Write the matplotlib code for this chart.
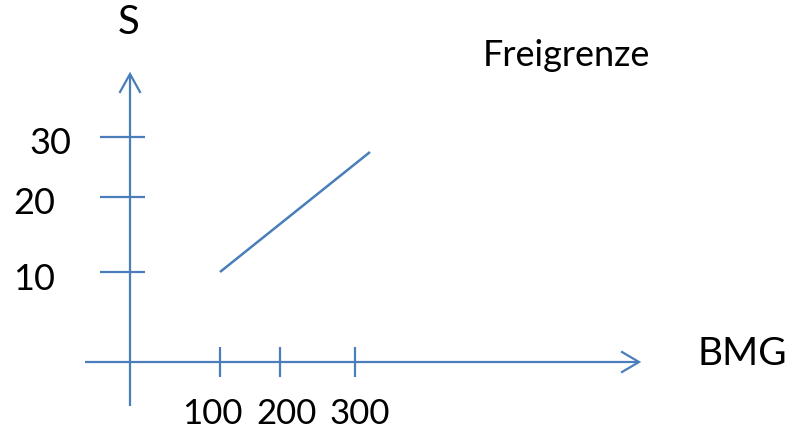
import numpy as np
import matplotlib
matplotlib.use("Agg")
import matplotlib.pyplot as plt
from matplotlib.transforms import Affine2D, blended_transform_factory

# ---- data ----
x_ticks = [100, 200, 300]
x_tick_labels = ["100", "200", "300"]
y_ticks = [10, 20, 30]
y_tick_labels = ["10", "20", "30"]
line_x = [100, 320]
line_y = [10, 27.5]
x_label = "BMG"
y_label = "S"
title = "Freigrenze"

# ---- layout / style (pixel anchors of the hand-drawn sketch) ----
W, H = 795, 433
BLUE = "#4A7EBB"
FONT = ["Lato", "DejaVu Sans"]
XV = [-1000, 0, 100, 200, 300, 2000]
XP = [130 - 1000 * 0.75, 130, 220, 280, 355, 355 + 1700 * 0.75]
YV = [-1000, 0, 10, 20, 30, 1000]
YP = [71 - 1000 * 9, 71, 161, 236, 296, 296 + 970 * 6]   # height from bottom

fx = lambda v: np.interp(v, XV, XP)
fxi = lambda p: np.interp(p, XP, XV)
fy = lambda v: np.interp(v, YV, YP)
fyi = lambda p: np.interp(p, YP, YV)

fig = plt.figure(figsize=(W / 100, H / 100), dpi=100)
ax = fig.add_axes([0, 0, 1, 1])
ax.set_xscale("function", functions=(fx, fxi))
ax.set_yscale("function", functions=(fy, fyi))
ax.set_xlim(fxi(0), fxi(W))
ax.set_ylim(fyi(0), fyi(H))
ax.axis("off")

# pixel transform (origin top-left)
pix = Affine2D().scale(1 / W, -1 / H).translate(0, 1) + fig.transFigure
bx = blended_transform_factory(ax.transData, pix)   # data x, pixel y
by = blended_transform_factory(pix, ax.transData)   # pixel x, data y

lw = 1.6
kw = dict(color=BLUE, lw=lw, solid_capstyle="butt")

# axes (arrows)
ax.plot([130, 130], [406, 75], transform=pix, **kw)
ax.plot([120, 130, 140], [92, 74, 92], transform=pix, color=BLUE, lw=lw,
        solid_joinstyle="miter")
ax.plot([85, 638], [362, 362], transform=pix, **kw)
ax.plot([622, 639, 622], [352, 362, 372], transform=pix, color=BLUE, lw=lw,
        solid_joinstyle="miter")

# x ticks (labels slightly offset as in the sketch)
x_lab_dx = [-8, 7, 5]
for v, lab, dx in zip(x_ticks, x_tick_labels, x_lab_dx):
    ax.plot([v, v], [347, 377], transform=bx, **kw)
    ax.text(v, 414, lab, transform=bx + Affine2D().translate(dx, 0),
            ha="center", va="center", fontsize=25, family=FONT, color="black")

# y ticks
y_lab_right = [55, 55, 71]
for v, lab, xr in zip(y_ticks, y_tick_labels, y_lab_right):
    ax.plot([100, 145], [v, v], transform=by, **kw)
    ax.text(xr, v, lab, transform=by + Affine2D().translate(0, -7),
            ha="right", va="center", fontsize=26, family=FONT, color="black")

# data line
ax.plot(line_x, line_y, color=BLUE, lw=lw + 0.2, solid_capstyle="butt")

# texts
ax.text(129, 22, y_label, transform=pix, ha="center", va="center",
        fontsize=29, family=FONT, color="black")
ax.text(742, 354, x_label, transform=pix, ha="center", va="center",
        fontsize=28, family=FONT, color="black")
ax.text(566, 56, title, transform=pix, ha="center", va="center",
        fontsize=26, family=FONT, color="black")

fig.savefig("out.png", dpi=100)
